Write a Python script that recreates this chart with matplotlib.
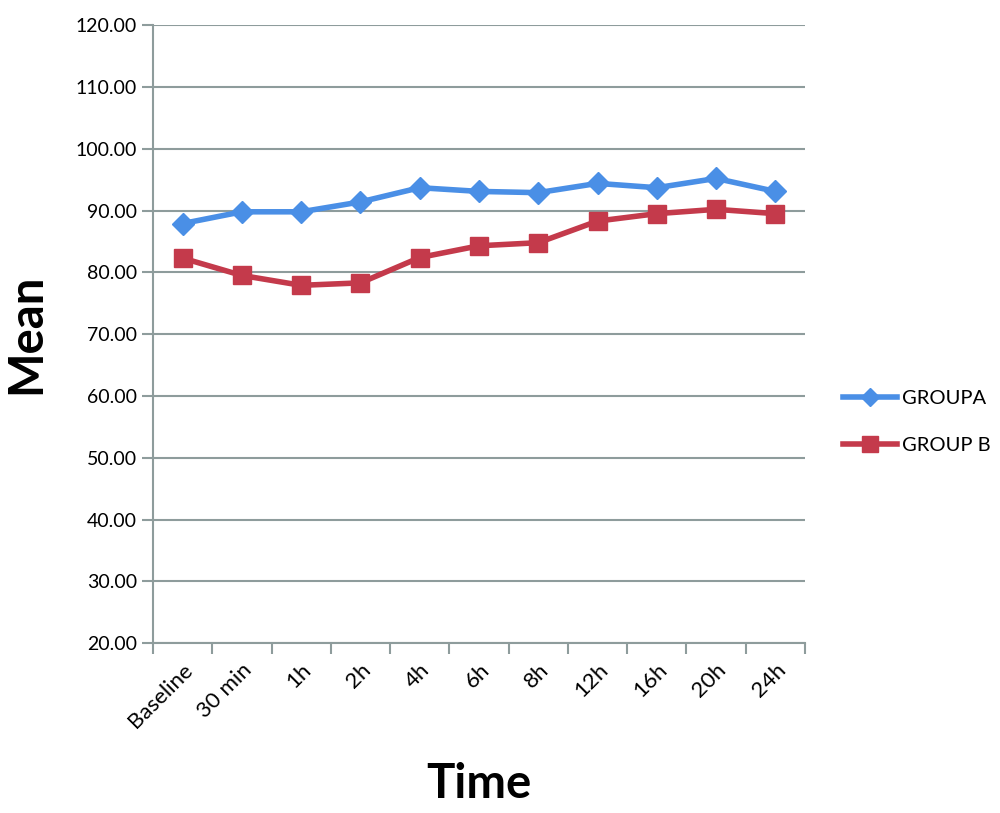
import matplotlib.pyplot as plt
import numpy as np

plt.rcParams['font.family'] = ['Lato', 'DejaVu Sans']

# Data
times = ['Baseline', '30 min', '1h', '2h', '4h', '6h', '8h', '12h', '16h', '20h', '24h']
group_a = [87.9, 89.8, 89.8, 91.4, 93.7, 93.1, 92.9, 94.4, 93.7, 95.2, 93.1]
group_b = [82.3, 79.5, 77.9, 78.3, 82.4, 84.3, 84.8, 88.3, 89.5, 90.2, 89.5]
y_ticks = np.arange(20, 121, 10)

fig = plt.figure(figsize=(10, 8.13), dpi=100)
ax = fig.add_axes([0.153, 0.209, 0.652, 0.760])

x = np.arange(len(times))
ax.plot(x, group_a, color='#4A8FE6', lw=4, marker='D', ms=11, label='GROUPA', zorder=3)
ax.plot(x, group_b, color='#C43A4B', lw=4, marker='s', ms=13, label='GROUP B', zorder=3)

ax.set_xlim(-0.5, len(times) - 0.5)
ax.set_ylim(20, 120)
ax.set_yticks(y_ticks)
ax.set_yticklabels(['%.2f' % v for v in y_ticks], fontsize=14)
ax.yaxis.grid(True, color='#8E9C9C', lw=1.5)
ax.set_axisbelow(True)

ax.set_xticks(x)
ax.set_xticklabels(times, rotation=45, ha='right', rotation_mode='anchor', fontsize=16)
ax.xaxis.set_tick_params(length=0, pad=12)
ax.set_xticks(np.arange(-0.5, len(times)), minor=True)
ax.tick_params(axis='x', which='minor', length=8, color='#8E9C9C', width=1.5)
ax.tick_params(axis='y', length=8, color='#8E9C9C', width=1.5)

for side in ['top', 'right']:
    ax.spines[side].set_visible(False)
for side in ['left', 'bottom']:
    ax.spines[side].set_color('#8E9C9C')
    ax.spines[side].set_linewidth(1.5)

ax.set_ylabel('Mean', fontsize=34, fontweight='bold', labelpad=20)
ax.set_xlabel('Time', fontsize=34, fontweight='bold', labelpad=22)

fig.legend(loc='center left', bbox_to_anchor=(0.843, 0.481), frameon=False,
           fontsize=14.5, handlelength=2.7, labelspacing=1.5, handletextpad=0.25,
           borderpad=0, borderaxespad=0, markerscale=0.85)

fig.savefig('out.png', dpi=100)
